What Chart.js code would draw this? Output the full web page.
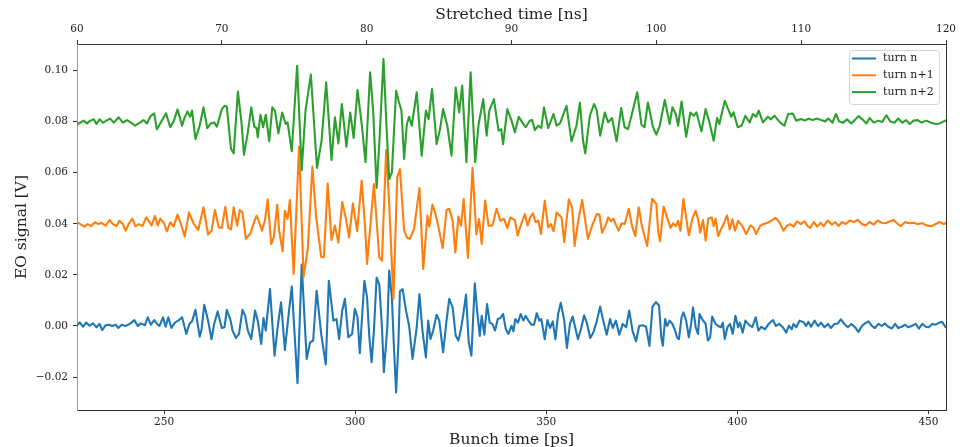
<!DOCTYPE html>
<html>
<head>
<meta charset="utf-8">
<title>EO signal over three turns</title>
<script src="https://cdn.jsdelivr.net/npm/chart.js@4.4.0/dist/chart.umd.min.js"></script>
<style>
  html, body { margin: 0; padding: 0; background: #fff; }
  #wrap { width: 964px; height: 447px; }
</style>
</head>
<body>
<div id="wrap"><canvas id="eoChart" width="964" height="447"></canvas></div>
<script>
var seriesLabels = ['turn n', 'turn n+1', 'turn n+2'];
var seriesColors = ['#1f77b4', '#ff7f0e', '#2ca02c'];

var bunchTicks = [250, 300, 350, 400, 450];
var stretchTicks = [60, 70, 80, 90, 100, 110, 120];
var signalTicks = [-0.02, 0.00, 0.02, 0.04, 0.06, 0.08, 0.10];

// turn n  (bunch time in ps, signal in V)
var turnNTime = [
  227.2, 227.9, 228.8, 229.6, 230.5, 231.4, 232.3, 233.1, 233.8, 234.7,
  235.6, 236.4, 237.3, 238.0, 238.9, 239.9, 241.0, 242.2, 243.1, 243.9,
  245.0, 245.7, 246.5, 247.4, 248.3, 248.8, 249.7, 250.4, 251.1, 251.9,
  252.8, 253.7, 254.7, 255.8, 256.6, 257.3, 258.2, 259.3, 259.8, 260.5,
  261.5, 262.4, 263.1, 264.0, 265.1, 265.8, 266.4, 267.3, 267.9, 268.8,
  269.6, 270.5, 271.2, 271.9, 272.8, 273.8, 274.5, 275.4, 276.0, 276.6,
  277.7, 278.9, 279.7, 280.6, 281.6, 282.5, 283.4, 284.9, 286.0, 287.3,
  288.2, 289.0, 289.9, 291.1, 292.3, 293.1, 294.3, 295.1, 295.8, 296.6,
  297.3, 298.2, 299.2, 299.9, 300.6, 301.2, 302.4, 303.1, 303.7, 304.3,
  304.9, 305.6, 306.3, 307.0, 307.5, 308.4, 308.9, 309.6, 310.1, 310.7,
  311.3, 311.7, 312.4, 313.3, 314.1, 315.0, 316.1, 316.8, 317.6, 318.5,
  319.1, 319.7, 320.4, 321.3, 322.0, 323.0, 323.9, 324.6, 325.5, 326.3,
  327.0, 327.6, 328.3, 329.0, 329.7, 330.4, 331.3, 331.9, 332.6, 333.1,
  333.8, 334.5, 335.2, 335.9, 336.6, 337.3, 338.0, 338.7, 339.4, 340.1,
  340.9, 341.4, 341.9, 342.6, 343.3, 344.0, 344.6, 345.3, 346.1, 346.8,
  347.5, 348.2, 348.7, 349.6, 350.3, 351.0, 351.7, 352.4, 353.1, 353.8,
  354.7, 355.4, 356.2, 356.9, 357.6, 358.3, 359.2, 359.9, 360.6, 361.5,
  362.3, 363.2, 364.1, 364.9, 365.8, 366.7, 367.4, 368.2, 369.1, 370.0,
  370.9, 371.7, 372.6, 373.5, 374.3, 375.2, 376.1, 377.0, 377.8, 378.7,
  379.5, 380.1, 380.5, 381.1, 381.6, 382.3, 383.0, 383.7, 384.2, 384.7,
  385.4, 385.9, 386.6, 387.3, 387.9, 388.4, 389.1, 389.7, 390.1, 390.8,
  391.7, 392.3, 392.9, 393.4, 394.3, 395.0, 395.7, 396.2, 396.7, 397.4,
  398.1, 398.8, 399.5, 400.2, 400.7, 401.4, 402.1, 403.0, 403.9, 404.8,
  405.5, 406.3, 407.2, 408.2, 409.3, 410.1, 411.0, 411.9, 412.8, 413.5,
  414.2, 414.7, 415.4, 416.3, 417.4, 418.0, 418.6, 419.3, 420.2, 421.1,
  421.9, 422.8, 423.7, 424.5, 425.4, 426.3, 427.1, 428.0, 428.9, 429.8,
  430.8, 431.7, 432.6, 433.4, 434.3, 435.2, 436.0, 436.9, 437.8, 438.6,
  439.5, 440.4, 441.3, 442.1, 443.0, 443.9, 444.7, 445.6, 446.7, 447.5,
  448.4, 449.3, 450.1, 451.0, 451.9, 452.8, 453.6, 454.5
];
var turnNSignal = [
  0.0001, 0.0014, -0.0003, 0.0013, 0.0001, 0.0010, -0.0005, 0.0008, -0.0016, 0.0003,
  0.0005, 0.0000, 0.0005, -0.0008, 0.0005, 0.0000, 0.0008, 0.0023, 0.0000, 0.0010,
  0.0003, 0.0034, 0.0005, 0.0023, 0.0005, 0.0000, 0.0034, -0.0003, 0.0034, -0.0008,
  0.0013, 0.0021, 0.0034, -0.0031, 0.0008, 0.0018, 0.0063, -0.0042, -0.0013, 0.0083,
  0.0021, -0.0052, 0.0008, 0.0057, -0.0008, -0.0005, 0.0063, 0.0027, -0.0018, -0.0047,
  -0.0031, 0.0063, 0.0040, -0.0018, -0.0051, 0.0060, 0.0021, -0.0070, 0.0031, -0.0018,
  0.0145, -0.0116, -0.0005, 0.0093, -0.0094, 0.0034, 0.0154, -0.0224, 0.0240, -0.0129,
  -0.0064, -0.0057, 0.0138, -0.0031, -0.0151, 0.0177, 0.0021, 0.0027, -0.0051, 0.0060,
  0.0106, -0.0044, -0.0031, 0.0067, 0.0034, -0.0107, 0.0177, 0.0112, -0.0044, -0.0142,
  -0.0018, 0.0190, 0.0162, -0.0005, -0.0181, -0.0005, 0.0217, 0.0112, -0.0070, -0.0260,
  -0.0070, 0.0136, 0.0144, 0.0060, 0.0001, -0.0129, -0.0005, 0.0125, -0.0018, -0.0123,
  0.0021, -0.0051, -0.0018, 0.0044, 0.0021, -0.0103, 0.0021, 0.0106, 0.0073, -0.0038,
  -0.0057, -0.0018, 0.0047, 0.0123, -0.0064, -0.0116, 0.0167, 0.0060, -0.0039, 0.0040,
  -0.0034, 0.0086, 0.0013, 0.0008, -0.0018, 0.0027, 0.0031, 0.0047, -0.0012, -0.0031,
  0.0001, -0.0021, 0.0027, 0.0013, 0.0047, 0.0021, 0.0040, 0.0021, 0.0005, 0.0005,
  0.0050, 0.0021, 0.0027, -0.0052, 0.0023, -0.0008, 0.0018, -0.0052, 0.0047, 0.0091,
  0.0021, -0.0086, 0.0008, 0.0037, -0.0008, -0.0052, -0.0005, 0.0042, 0.0013, -0.0047,
  -0.0026, 0.0018, 0.0076, 0.0021, -0.0034, 0.0027, -0.0008, 0.0021, -0.0034, 0.0008,
  -0.0005, 0.0060, -0.0021, -0.0060, 0.0000, 0.0003, -0.0003, -0.0078, 0.0076, 0.0093,
  0.0080, -0.0044, -0.0077, 0.0027, 0.0000, 0.0021, 0.0008, -0.0018, -0.0044, -0.0052,
  0.0034, 0.0053, 0.0021, -0.0044, 0.0008, 0.0073, -0.0005, -0.0031, 0.0047, 0.0026,
  0.0008, -0.0057, -0.0044, 0.0037, 0.0008, 0.0000, -0.0005, 0.0013, -0.0051, -0.0005,
  0.0008, -0.0031, 0.0040, -0.0005, 0.0013, -0.0026, 0.0021, 0.0005, -0.0005, 0.0034,
  -0.0018, -0.0003, -0.0013, 0.0008, 0.0023, 0.0000, 0.0008, -0.0005, -0.0026, 0.0001,
  -0.0013, 0.0008, -0.0005, 0.0021, 0.0014, 0.0000, 0.0016, -0.0003, 0.0021, 0.0000,
  0.0013, -0.0005, 0.0008, -0.0008, 0.0008, 0.0010, 0.0026, 0.0008, -0.0005, 0.0008,
  -0.0005, -0.0023, 0.0000, 0.0010, 0.0018, 0.0000, -0.0008, 0.0008, 0.0000, 0.0010,
  -0.0003, -0.0010, 0.0008, -0.0008, -0.0003, 0.0005, -0.0005, 0.0000, 0.0008, -0.0010,
  0.0008, -0.0003, -0.0005, 0.0008, 0.0005, 0.0013, 0.0016, -0.0005
];

// turn n+1
var turnN1Time = [
  227.2, 228.1, 229.1, 230.0, 230.9, 231.9, 232.8, 233.6, 234.7, 235.7,
  236.6, 237.5, 238.3, 239.2, 239.9, 240.8, 241.7, 242.5, 243.4, 244.3,
  245.3, 246.2, 246.7, 247.6, 248.3, 249.0, 250.0, 250.7, 251.6, 252.5,
  253.5, 254.4, 255.4, 256.5, 257.7, 258.9, 260.3, 261.5, 262.4, 263.3,
  264.3, 265.1, 266.0, 266.8, 267.5, 268.2, 269.1, 269.8, 270.5, 271.4,
  272.6, 273.5, 274.2, 274.9, 275.6, 276.4, 277.1, 278.0, 278.7, 279.6,
  280.1, 281.0, 281.6, 282.3, 282.9, 283.9, 285.3, 286.5, 287.6, 288.8,
  289.8, 291.1, 291.8, 292.8, 293.8, 294.7, 295.6, 296.6, 297.5, 298.4,
  299.4, 300.5, 301.7, 302.6, 303.1, 304.9, 306.3, 307.0, 308.1, 308.9,
  310.0, 311.0, 311.7, 312.8, 313.6, 314.3, 315.4, 316.8, 317.8, 318.9,
  319.4, 320.2, 320.9, 321.8, 322.9, 323.9, 324.6, 325.5, 326.2, 327.0,
  327.7, 328.4, 329.5, 330.7, 331.7, 332.4, 333.1, 334.0, 334.9, 335.9,
  337.0, 338.0, 338.9, 339.8, 340.6, 341.8, 342.5, 343.3, 344.4, 345.1,
  345.8, 346.5, 347.2, 347.9, 348.6, 349.6, 350.5, 351.2, 351.9, 352.7,
  354.0, 354.7, 355.9, 356.8, 357.4, 358.3, 359.4, 360.2, 360.9, 362.0,
  363.2, 363.9, 364.6, 365.5, 366.2, 366.9, 367.6, 368.2, 368.9, 369.8,
  370.5, 371.6, 372.4, 373.3, 374.2, 375.0, 376.4, 377.7, 378.8, 379.3,
  379.8, 380.7, 381.6, 382.5, 383.2, 383.9, 384.5, 385.1, 385.9, 386.6,
  387.3, 388.2, 389.1, 389.8, 390.3, 391.0, 391.7, 392.4, 393.3, 393.8,
  394.3, 395.0, 395.7, 396.4, 397.3, 398.0, 398.7, 399.4, 400.2, 401.3,
  402.3, 403.4, 404.2, 404.9, 406.0, 406.8, 407.9, 408.9, 410.0, 411.0,
  412.1, 412.9, 413.8, 414.7, 415.6, 416.6, 417.6, 418.4, 419.1, 420.0,
  420.9, 421.8, 422.6, 423.7, 424.7, 425.6, 426.5, 427.3, 428.4, 429.4,
  430.5, 431.5, 432.6, 433.6, 434.6, 435.7, 436.7, 437.8, 438.8, 439.9,
  440.9, 442.0, 442.8, 443.9, 444.9, 446.0, 447.2, 448.4, 449.6, 450.8,
  451.9, 452.9, 454.0, 454.7
];
var turnN1Signal = [
  0.0406, 0.0399, 0.0389, 0.0399, 0.0391, 0.0406, 0.0399, 0.0404, 0.0393, 0.0415,
  0.0399, 0.0391, 0.0412, 0.0399, 0.0373, 0.0402, 0.0420, 0.0391, 0.0399, 0.0391,
  0.0425, 0.0406, 0.0393, 0.0431, 0.0393, 0.0420, 0.0402, 0.0370, 0.0406, 0.0389,
  0.0436, 0.0399, 0.0350, 0.0445, 0.0402, 0.0376, 0.0465, 0.0358, 0.0373, 0.0454,
  0.0386, 0.0384, 0.0467, 0.0384, 0.0378, 0.0465, 0.0393, 0.0454, 0.0445, 0.0341,
  0.0363, 0.0406, 0.0432, 0.0406, 0.0373, 0.0415, 0.0496, 0.0321, 0.0347, 0.0475,
  0.0373, 0.0292, 0.0451, 0.0419, 0.0493, 0.0204, 0.0702, 0.0193, 0.0305, 0.0624,
  0.0425, 0.0271, 0.0269, 0.0558, 0.0337, 0.0393, 0.0326, 0.0485, 0.0425, 0.0347,
  0.0480, 0.0371, 0.0569, 0.0380, 0.0243, 0.0556, 0.0269, 0.0256, 0.0689, 0.0478,
  0.0106, 0.0582, 0.0614, 0.0373, 0.0345, 0.0341, 0.0380, 0.0540, 0.0223, 0.0432,
  0.0389, 0.0475, 0.0445, 0.0386, 0.0305, 0.0454, 0.0459, 0.0412, 0.0288, 0.0428,
  0.0393, 0.0497, 0.0266, 0.0619, 0.0358, 0.0419, 0.0321, 0.0491, 0.0393, 0.0393,
  0.0459, 0.0412, 0.0420, 0.0384, 0.0425, 0.0413, 0.0354, 0.0393, 0.0438, 0.0393,
  0.0425, 0.0441, 0.0406, 0.0413, 0.0360, 0.0491, 0.0386, 0.0399, 0.0371, 0.0444,
  0.0425, 0.0328, 0.0496, 0.0462, 0.0313, 0.0406, 0.0493, 0.0413, 0.0341, 0.0393,
  0.0438, 0.0436, 0.0365, 0.0393, 0.0425, 0.0410, 0.0420, 0.0397, 0.0373, 0.0402,
  0.0399, 0.0459, 0.0393, 0.0352, 0.0465, 0.0393, 0.0313, 0.0498, 0.0478, 0.0367,
  0.0332, 0.0467, 0.0425, 0.0384, 0.0402, 0.0391, 0.0412, 0.0373, 0.0498, 0.0425,
  0.0355, 0.0419, 0.0451, 0.0412, 0.0365, 0.0415, 0.0334, 0.0420, 0.0425, 0.0391,
  0.0420, 0.0352, 0.0378, 0.0399, 0.0433, 0.0378, 0.0418, 0.0373, 0.0412, 0.0391,
  0.0360, 0.0393, 0.0386, 0.0360, 0.0393, 0.0399, 0.0404, 0.0412, 0.0423, 0.0406,
  0.0373, 0.0391, 0.0399, 0.0389, 0.0410, 0.0399, 0.0410, 0.0391, 0.0384, 0.0407,
  0.0389, 0.0404, 0.0391, 0.0413, 0.0397, 0.0407, 0.0391, 0.0407, 0.0399, 0.0413,
  0.0407, 0.0415, 0.0399, 0.0393, 0.0407, 0.0397, 0.0413, 0.0404, 0.0402, 0.0410,
  0.0415, 0.0399, 0.0391, 0.0407, 0.0402, 0.0404, 0.0399, 0.0402, 0.0393, 0.0391,
  0.0399, 0.0407, 0.0399, 0.0404
];

// turn n+2
var turnN2Time = [
  227.2, 228.2, 228.9, 229.8, 230.7, 231.6, 232.3, 233.1, 234.0, 234.9,
  235.9, 236.8, 238.1, 239.2, 240.3, 241.6, 242.4, 243.8, 244.6, 245.5,
  246.5, 247.4, 248.1, 249.4, 250.5, 251.6, 252.5, 253.5, 254.7, 255.2,
  256.1, 256.8, 257.3, 258.2, 259.3, 260.3, 261.3, 262.2, 263.1, 263.8,
  265.1, 265.8, 266.4, 267.5, 268.2, 269.3, 270.2, 270.9, 271.9, 272.8,
  273.6, 274.2, 274.5, 275.2, 275.9, 276.6, 277.5, 278.3, 279.0, 279.9,
  280.9, 281.8, 282.3, 283.4, 284.8, 286.0, 287.0, 288.4, 290.0, 291.2,
  292.4, 293.8, 294.7, 295.6, 296.5, 297.7, 298.7, 299.6, 300.6, 301.7,
  302.7, 303.9, 304.7, 305.6, 306.3, 307.4, 308.2, 308.9, 309.6, 310.7,
  311.4, 312.1, 312.8, 313.5, 314.1, 314.8, 316.1, 317.4, 318.5, 319.2,
  320.1, 321.3, 322.2, 323.0, 324.1, 325.2, 326.3, 327.2, 328.0, 329.1,
  330.2, 331.4, 332.3, 333.5, 334.4, 335.1, 336.3, 337.5, 338.2, 338.7,
  339.8, 340.9, 341.8, 342.8, 343.7, 344.6, 345.7, 346.3, 347.0, 347.9,
  348.7, 349.4, 350.5, 351.9, 352.7, 353.6, 354.5, 355.3, 356.6, 357.9,
  358.8, 359.6, 360.2, 361.4, 362.5, 363.2, 364.1, 365.3, 366.2, 367.2,
  368.4, 369.6, 370.5, 371.4, 372.3, 373.8, 374.9, 375.7, 376.6, 377.9,
  378.8, 379.7, 381.0, 382.3, 383.0, 383.9, 384.5, 385.4, 386.6, 387.7,
  388.6, 389.3, 390.6, 391.7, 392.7, 393.8, 394.7, 395.3, 396.7, 397.6,
  398.4, 399.0, 400.1, 401.1, 402.1, 403.2, 404.1, 404.9, 405.6, 406.7,
  408.0, 408.8, 409.7, 411.2, 412.3, 413.3, 414.5, 415.4, 416.7, 417.7,
  418.6, 419.7, 420.9, 421.9, 423.0, 423.8, 424.9, 425.8, 426.6, 427.7,
  428.7, 429.8, 430.6, 431.7, 432.7, 433.8, 434.6, 435.7, 436.9, 437.9,
  439.0, 440.0, 441.1, 442.1, 443.2, 444.2, 445.1, 446.1, 447.2, 448.2,
  449.4, 450.7, 451.9, 452.9, 454.0, 454.7
];
var turnN2Signal = [
  0.0791, 0.0797, 0.0804, 0.0793, 0.0804, 0.0809, 0.0791, 0.0809, 0.0796, 0.0804,
  0.0812, 0.0796, 0.0817, 0.0796, 0.0806, 0.0793, 0.0784, 0.0797, 0.0806, 0.0793,
  0.0823, 0.0832, 0.0770, 0.0804, 0.0832, 0.0778, 0.0801, 0.0848, 0.0784, 0.0810,
  0.0840, 0.0819, 0.0843, 0.0732, 0.0784, 0.0856, 0.0775, 0.0793, 0.0797, 0.0780,
  0.0849, 0.0862, 0.0858, 0.0693, 0.0676, 0.0918, 0.0804, 0.0670, 0.0758, 0.0856,
  0.0780, 0.0775, 0.0738, 0.0827, 0.0778, 0.0827, 0.0723, 0.0856, 0.0843, 0.0754,
  0.0836, 0.0791, 0.0797, 0.0684, 0.1019, 0.0610, 0.0843, 0.0984, 0.0619, 0.0725,
  0.0954, 0.0650, 0.0817, 0.0715, 0.0869, 0.0702, 0.0836, 0.0736, 0.0924, 0.0791,
  0.0641, 0.0993, 0.0843, 0.0540, 0.0712, 0.1045, 0.0778, 0.0575, 0.0601, 0.0921,
  0.0879, 0.0843, 0.0654, 0.0788, 0.0819, 0.0784, 0.0915, 0.0667, 0.0843, 0.0810,
  0.0928, 0.0712, 0.0771, 0.0849, 0.0784, 0.0667, 0.0934, 0.0836, 0.0941, 0.0641,
  0.0993, 0.0641, 0.0791, 0.0888, 0.0745, 0.0843, 0.0888, 0.0765, 0.0771, 0.0712,
  0.0849, 0.0804, 0.0758, 0.0819, 0.0797, 0.0778, 0.0804, 0.0806, 0.0767, 0.0784,
  0.0775, 0.0856, 0.0775, 0.0830, 0.0784, 0.0793, 0.0830, 0.0862, 0.0723, 0.0784,
  0.0874, 0.0728, 0.0676, 0.0823, 0.0869, 0.0845, 0.0745, 0.0836, 0.0797, 0.0814,
  0.0723, 0.0853, 0.0778, 0.0771, 0.0823, 0.0915, 0.0788, 0.0778, 0.0875, 0.0780,
  0.0749, 0.0784, 0.0885, 0.0791, 0.0856, 0.0830, 0.0784, 0.0879, 0.0741, 0.0836,
  0.0823, 0.0836, 0.0762, 0.0849, 0.0797, 0.0725, 0.0814, 0.0791, 0.0882, 0.0849,
  0.0819, 0.0836, 0.0778, 0.0784, 0.0823, 0.0797, 0.0830, 0.0819, 0.0843, 0.0797,
  0.0819, 0.0809, 0.0823, 0.0797, 0.0784, 0.0830, 0.0832, 0.0804, 0.0810, 0.0804,
  0.0812, 0.0806, 0.0812, 0.0806, 0.0801, 0.0812, 0.0796, 0.0830, 0.0801, 0.0796,
  0.0809, 0.0793, 0.0804, 0.0822, 0.0809, 0.0793, 0.0814, 0.0796, 0.0804, 0.0799,
  0.0825, 0.0801, 0.0796, 0.0812, 0.0796, 0.0806, 0.0791, 0.0804, 0.0806, 0.0796,
  0.0804, 0.0796, 0.0791, 0.0793, 0.0801, 0.0806
];

var serif = "'DejaVu Serif', 'Liberation Serif', serif";
var textColor = '#222';
var spineColor = '#333';

function pointsOf(times, values) {
    var n = Math.min(times.length, values.length);
    let pts = [];
    for (let i = 0; i < n; i++) pts.push({ x: times[i], y: values[i] });
    return pts;
}

function fixedTicks(values) {
    return function(axis) {
        axis.ticks = values.map(function(v) { return { value: v }; });
    };
}

function signalLabel(value) {
    let s = Math.abs(value).toFixed(2);
    return value < -1e-9 ? '\u2212' + s : s;
}

// matplotlib-style legend drawn inside the plot, upper right
var insideLegend = {
    id: 'insideLegend',
    afterDatasetsDraw: function(chart) {
        let ctx = chart.ctx, area = chart.chartArea;
        let x = area.right - 97, y = area.top + 6, w = 90, h = 54;
        ctx.save();
        ctx.beginPath();
        if (ctx.roundRect) ctx.roundRect(x + 0.5, y + 0.5, w, h, 3);
        else ctx.rect(x + 0.5, y + 0.5, w, h);
        ctx.fillStyle = 'rgba(255,255,255,0.8)';
        ctx.fill();
        ctx.strokeStyle = '#d4d4d4';
        ctx.lineWidth = 1;
        ctx.stroke();
        ctx.font = '11px ' + serif;
        ctx.textBaseline = 'middle';
        ctx.textAlign = 'left';
        seriesLabels.forEach(function(label, i) {
            let ly = y + 8.5 + i * 16.8;
            ctx.beginPath();
            ctx.moveTo(x + 3, ly);
            ctx.lineTo(x + 27, ly);
            ctx.strokeStyle = seriesColors[i];
            ctx.lineWidth = 2;
            ctx.stroke();
            ctx.fillStyle = textColor;
            ctx.fillText(label, x + 34, ly);
        });
        ctx.restore();
    }
};

var tickFont = { family: serif, size: 10.5 };
var titleFont = { family: serif, size: 15.5 };

var eoChart = new Chart(document.getElementById('eoChart').getContext('2d'), {
    type: 'line',
    data: {
        datasets: [
            { label: seriesLabels[0], data: pointsOf(turnNTime, turnNSignal), borderColor: seriesColors[0], order: 3 },
            { label: seriesLabels[1], data: pointsOf(turnN1Time, turnN1Signal), borderColor: seriesColors[1], order: 2 },
            { label: seriesLabels[2], data: pointsOf(turnN2Time, turnN2Signal), borderColor: seriesColors[2], order: 1 }
        ]
    },
    options: {
        responsive: false,
        animation: false,
        layout: { padding: 0 },
        elements: {
            line: { borderWidth: 2.1, tension: 0, fill: false, borderJoinStyle: 'round', borderCapStyle: 'round' },
            point: { radius: 0, hoverRadius: 0 }
        },
        plugins: {
            legend: { display: false },
            tooltip: { enabled: false }
        },
        scales: {
            x: {
                type: 'linear', position: 'bottom', min: 227.2, max: 454.6,
                afterBuildTicks: fixedTicks(bunchTicks),
                afterFit: function(s) { s.height = 37; },
                ticks: { font: tickFont, color: textColor, padding: 2, maxRotation: 0 },
                grid: { drawOnChartArea: false, tickLength: 4, tickColor: spineColor },
                border: { display: true, color: spineColor, width: 1 },
                title: { display: true, text: 'Bunch time [ps]', font: titleFont, color: textColor, padding: { top: 0, bottom: -2 } }
            },
            x2: {
                type: 'linear', position: 'top', min: 60, max: 120,
                afterBuildTicks: fixedTicks(stretchTicks),
                afterFit: function(s) { s.height = 44; },
                ticks: { font: tickFont, color: textColor, padding: 4, maxRotation: 0 },
                grid: { drawOnChartArea: false, tickLength: 4, tickColor: spineColor },
                border: { display: true, color: spineColor, width: 1 },
                title: { display: true, text: 'Stretched time [ns]', font: titleFont, color: textColor, padding: { top: 6, bottom: 0 } }
            },
            y: {
                type: 'linear', position: 'left', min: -0.0329, max: 0.1104,
                afterBuildTicks: fixedTicks(signalTicks),
                afterFit: function(s) { s.width = 77; },
                ticks: { font: tickFont, color: textColor, padding: 5, callback: signalLabel },
                grid: { drawOnChartArea: false, tickLength: 4, tickColor: spineColor },
                border: { display: true, color: '#999', width: 1 },
                title: { display: true, text: 'EO signal [V]', font: titleFont, color: textColor, padding: { top: 13, bottom: 0 } }
            },
            y2: {
                type: 'linear', position: 'right', min: -0.0329, max: 0.1104,
                afterFit: function(s) { s.width = 18; },
                ticks: { display: false },
                grid: { display: false },
                border: { display: true, color: spineColor, width: 1 }
            }
        }
    },
    plugins: [insideLegend]
});
</script>
</body>
</html>
